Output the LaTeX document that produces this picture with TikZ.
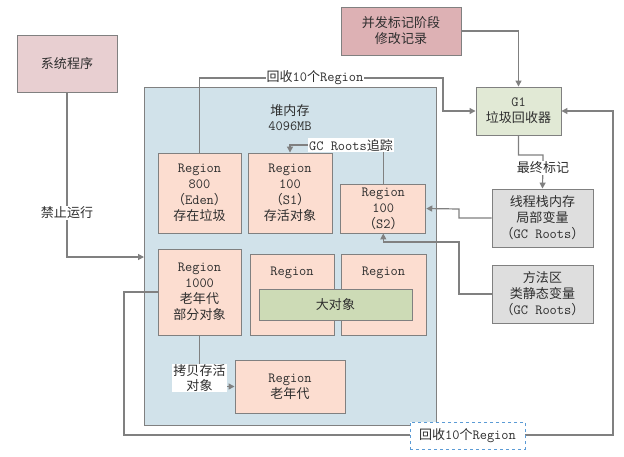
\documentclass[tikz,border=0pt]{standalone}
\usepackage{fontspec}
\newfontfamily\cjk[Scale=0.93]{Noto Sans CJK SC}
\newcommand\zh[1]{{\cjk #1}}
\usetikzlibrary{arrows.meta}

\definecolor{linegray}{HTML}{808080}
\definecolor{txt}{HTML}{2E2E2E}
\definecolor{sysfill}{HTML}{E8CFD1}
\definecolor{concfill}{HTML}{DDB1B4}
\definecolor{heapfill}{HTML}{D1E2EA}
\definecolor{regfill}{HTML}{FCDDD0}
\definecolor{bigfill}{HTML}{CDDBB6}
\definecolor{gcfill}{HTML}{E1E9D5}
\definecolor{rootfill}{HTML}{DEDEDE}
\definecolor{dashblue}{HTML}{5B9BD5}

\tikzset{
  box/.style={draw=linegray, line width=0.9pt, inner sep=0pt, align=center,
    text=txt, font=\ttfamily\fontsize{14}{16}\selectfont},
  regbox/.style={box, fill=regfill},
  conn/.style={draw=linegray, line width=1.2pt,
    -{Triangle[length=6pt,width=6pt]}},
  lbl/.style={fill=white, inner sep=1pt, text=txt, align=center,
    font=\ttfamily\fontsize{14}{15}\selectfont},
}

\begin{document}
\begin{tikzpicture}[x=1pt, y=-1pt]
\useasboundingbox (0,0) rectangle (624,456);

% heap area
\node[box, fill=heapfill, minimum width=292pt, minimum height=338pt] (heap) at (290,256) {};
\node[lbl, fill=none] (heaptitle) at (290,118) {\zh{堆内存}\\4096MB};

% outside boxes
\node[box, fill=sysfill, minimum width=100pt, minimum height=57pt] (sys) at (67,63.5) {\zh{系统程序}};
\node[box, fill=concfill, minimum width=120pt, minimum height=48pt] (conc) at (401,31) {\zh{并发标记阶段}\\\zh{修改记录}};
\node[box, fill=gcfill, minimum width=85pt, minimum height=48pt] (g1) at (518.5,111) {G1\\\zh{垃圾回收器}};
\node[box, fill=rootfill, minimum width=101pt, minimum height=58pt] (thread) at (542.5,218) {\zh{线程栈内存}\\\zh{局部变量}\\\zh{（}GC Roots\zh{）}};
\node[box, fill=rootfill, minimum width=101pt, minimum height=58pt] (method) at (542.5,294) {\zh{方法区}\\\zh{类静态变量}\\\zh{（}GC Roots\zh{）}};

% regions
\node[regbox, minimum width=83pt, minimum height=80pt] (eden) at (199.5,193) {Region\\800\\\zh{（}Eden\zh{）}\\\zh{存在垃圾}};
\node[regbox, minimum width=84pt, minimum height=80pt] (s1) at (290,193) {Region\\100\\\zh{（}S1\zh{）}\\\zh{存活对象}};
\node[regbox, minimum width=85pt, minimum height=49pt] (s2) at (383.3,208.5) {Region\\100\\\zh{（}S2\zh{）}};
\node[regbox, minimum width=83pt, minimum height=86pt] (r1000) at (199.5,292) {Region\\1000\\\zh{老年代}\\\zh{部分对象}};
\node[regbox, minimum width=84pt, minimum height=81pt] (rm) at (292,294.5) {};
\node[regbox, minimum width=85pt, minimum height=81pt] (rr) at (383.5,294.5) {};
\node[lbl, fill=none] (rmtxt) at (292,273) {Region};
\node[lbl, fill=none] (rrtxt) at (383.5,273) {Region};
\node[box, fill=bigfill, minimum width=153pt, minimum height=31pt] (big) at (335.5,304.5) {\zh{大对象}};
\node[regbox, minimum width=110pt, minimum height=53pt] (old) at (290,386.5) {Region\\\zh{老年代}};

% connectors
\coordinate (heapin) at (144,257);
\draw[conn] (sys.south) |- (heapin);
\node[lbl] (stop) at (67,213) {\zh{禁止运行}};

\draw[conn] (eden.north) |- (443,78) |- (g1.west);
\node[lbl] (rec1) at (315,78) {\zh{回收}10\zh{个}Region};

\draw[conn] (s2.north) |- (345,145) -| (s1.north);
\node[lbl] (gcr) at (351,145) {GC Roots\zh{追踪}};

\draw[conn] (conc.east) -| (g1.north);

\draw[conn] (g1.south) |- (543,155) -- (thread.north);
\node[lbl] (final) at (543,168) {\zh{最终标记}};

\draw[conn] (thread.west) -| (459,209) -- (s2.east);
\draw[conn] (method.west) -| (459,242) -| (s2.south);

\draw[conn] (r1000.west) -| (124,435) -| (613,111) -- (g1.east);
\node[lbl, draw=dashblue, dashed, line width=0.8pt, minimum width=115pt, minimum height=27pt] (rec2) at (467.5,435.5) {\zh{回收}10\zh{个}Region};

\draw[conn] (r1000.south) |- (old.west);
\node[lbl] (copy) at (199.5,378) {\zh{拷贝存活}\\\zh{对象}};

\end{tikzpicture}
\end{document}
